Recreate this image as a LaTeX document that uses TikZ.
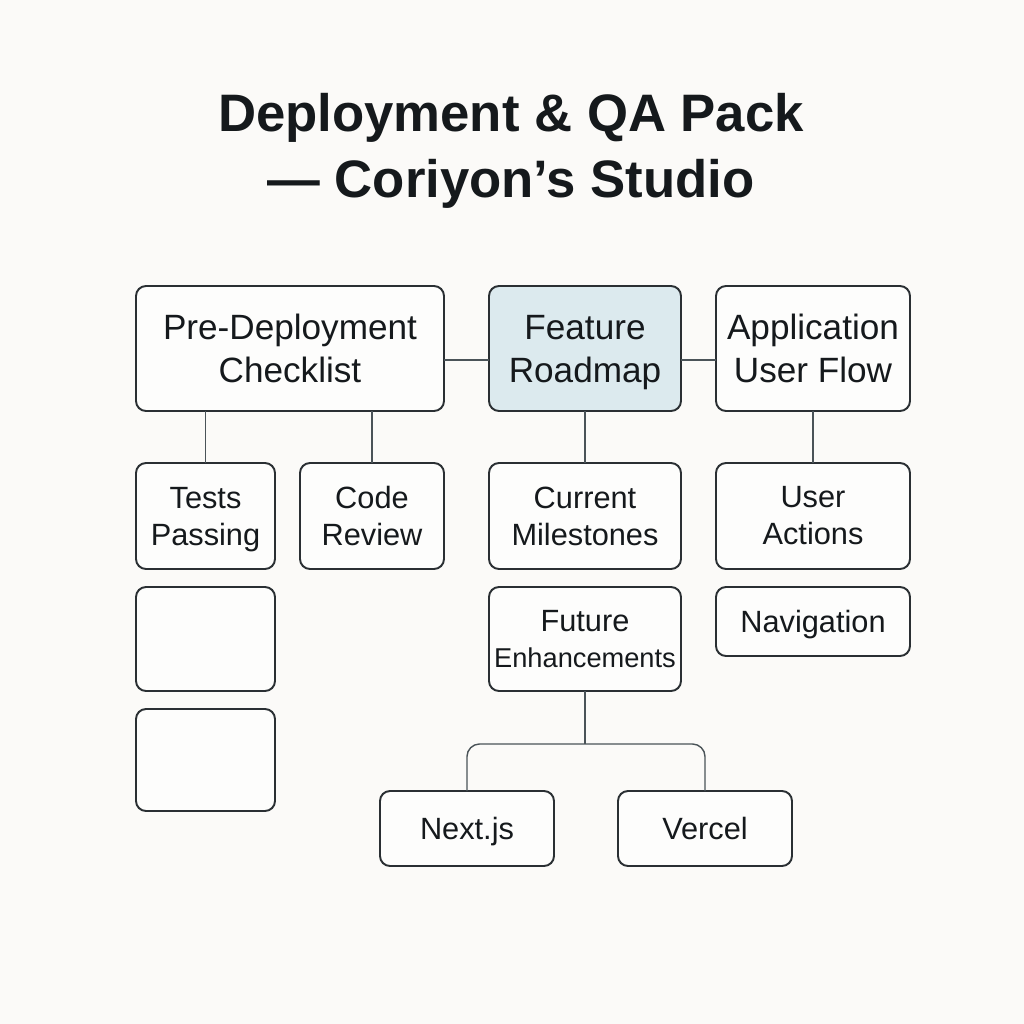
\documentclass[tikz,border=0pt]{standalone}
\usepackage{fontspec}
\setmainfont{Liberation Sans}
\usetikzlibrary{positioning}
\definecolor{paper}{HTML}{FBFAF8}
\definecolor{ink}{HTML}{15191C}
\definecolor{edge}{HTML}{2A2F33}
\definecolor{wire}{HTML}{4A5358}
\definecolor{roadfill}{HTML}{DCEAEE}
\begin{document}
\begin{tikzpicture}[
  box/.style={draw=edge, line width=1.1pt, rounded corners=0.2cm, fill=white!60!paper, outer sep=0pt,
    text=ink, align=center, inner sep=1pt, font=\fontsize{20}{24.5}\selectfont},
  mainbox/.style={box, minimum height=2.5cm},
  subbox/.style={box, minimum height=2.12cm, font=\fontsize{17.5}{21}\selectfont},
  leafbox/.style={subbox, text depth=0pt},
  link/.style={draw=wire, line width=0.8pt}
 ]
 \useasboundingbox[fill=paper] (0,0) rectangle (20.48,-20.48);
 \node [text=ink, align=center, inner sep=0pt, font=\fontsize{30}{37.5}\selectfont\bfseries]
  (title) at (10.22,-3.02) {Deployment \& QA Pack\\— Coriyon’s Studio};
 \node [mainbox, minimum width=6.16cm] (pre) at (5.8,-6.97) {Pre-Deployment\\Checklist};
 \node [mainbox, minimum width=3.84cm, fill=roadfill, right=0.9cm of pre] (road) {Feature\\\smash{Roadmap}};
 \node [mainbox, minimum width=3.88cm, right=0.7cm of road] (app) {Application\\User Flow};
 \node [subbox, minimum width=2.78cm, below right=1.04cm and 0cm of pre.south west] (tests) {Tests\\\smash{Passing}};
 \node [subbox, minimum width=2.88cm, below left=1.04cm and 0cm of pre.south east] (code) {Code\\Review};
 \node [subbox, minimum width=3.84cm, below=1.04cm of road] (cur) {Current\\Milestones};
 \node [subbox, minimum width=3.88cm, below=1.04cm of app] (act) {User\\Actions};
 \node [subbox, minimum width=2.78cm, minimum height=2.08cm, below=0.36cm of tests] (blankA) {};
 \node [subbox, minimum width=2.78cm, minimum height=2.04cm, below=0.36cm of blankA] (blankB) {};
 \node [subbox, minimum width=3.84cm, minimum height=2.08cm, below=0.36cm of cur] (fut)
  {Future\\{\fontsize{15.5}{18}\selectfont Enhancements}};
 \node [leafbox, minimum width=3.88cm, minimum height=1.38cm, below=0.36cm of act] (nav) {Navigation};
 \node [leafbox, minimum width=3.48cm, minimum height=1.5cm, below left=2cm and 0.62cm of fut.south] (next) {Next.js};
 \node [leafbox, minimum width=3.48cm, minimum height=1.5cm, below right=2cm and 0.66cm of fut.south] (vercel) {Vercel};
 \coordinate [below=1.06cm of fut.south] (split);
 \draw [link] ([yshift=-0.23cm]pre.east) -- ([yshift=-0.23cm]road.west);
 \draw [link] ([yshift=-0.23cm]road.east) -- ([yshift=-0.23cm]app.west);
 \draw [link] (tests.north |- pre.south) -- (tests.north);
 \draw [link] (code.north |- pre.south) -- (code.north);
 \draw [link] (road) -- (cur);
 \draw [link] (app) -- (act);
 \draw [link] (fut) -- (split);
 \draw [link, rounded corners=0.25cm] (next.north) |- (split) -| (vercel.north);
\end{tikzpicture}
\end{document}
